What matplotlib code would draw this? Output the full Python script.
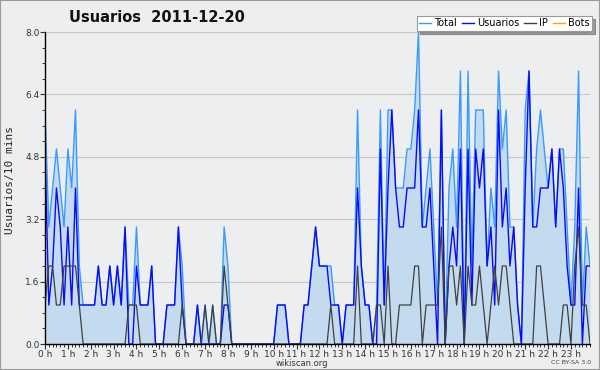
import numpy as np
import matplotlib
matplotlib.use("Agg")
import matplotlib.pyplot as plt
from matplotlib.patches import Rectangle
from matplotlib.lines import Line2D

# Values per 10-minute slot (144 slots, 2011-12-20)
usuarios = [5,1,2,4,3,1,3,1,4,1,1,1,
            1,1,2,1,1,2,1,2,1,3,0,0,
            2,1,1,1,2,0,0,0,1,1,1,3,
            1,0,0,0,1,0,0,0,0,0,0,1,
            1,0,0,0,0,0,0,0,0,0,0,0,
            0,1,1,1,0,0,0,0,1,1,2,3,
            2,2,2,1,1,1,0,1,1,1,4,2,
            1,1,0,0,5,1,4,6,4,3,3,4,
            4,4,6,3,3,4,2,0,6,0,2,3,
            2,5,0,5,1,5,4,5,2,3,1,6,
            3,4,2,3,1,0,4,7,3,3,4,4,
            4,5,3,5,4,2,1,1,4,0,2,2]
ip = [1,2,2,1,1,2,2,2,2,1,0,0,
      0,0,0,0,0,0,0,0,0,0,1,1,
      1,0,0,0,0,0,0,0,0,0,0,0,
      1,0,0,0,0,0,1,0,1,0,0,2,
      1,0,0,0,0,0,0,0,0,0,0,0,
      0,0,0,0,0,0,0,0,0,0,0,0,
      0,0,0,1,0,0,0,0,0,0,2,0,
      0,0,0,1,1,0,2,0,0,1,1,1,
      1,2,2,0,1,1,1,1,3,0,2,2,
      1,2,0,2,1,1,2,1,0,1,2,1,
      2,2,1,0,0,0,0,0,0,2,2,1,
      0,0,0,0,1,1,0,2,3,1,1,0]
total = [6,3,4,5,4,3,5,4,6,2,1,1,
         1,1,2,1,1,2,1,2,1,3,1,1,
         3,1,1,1,2,0,0,0,1,1,1,3,
         2,0,0,0,1,0,1,0,1,0,0,3,
         2,0,0,0,0,0,0,0,0,0,0,0,
         0,1,1,1,0,0,0,0,1,1,2,3,
         2,2,2,2,1,1,0,1,1,1,6,2,
         1,1,0,1,6,1,6,6,4,4,4,5,
         5,6,8,3,4,5,3,1,6,0,4,5,
         3,7,0,7,2,6,6,6,2,4,3,7,
         5,6,3,3,1,0,6,7,3,5,6,5,
         4,5,3,5,5,3,1,3,7,1,3,2]
bots = [0] * 144
hours = list(range(24))
hour_labels = [f"{h} h" for h in hours]
yticks = [0.0, 1.6, 3.2, 4.8, 6.4, 8.0]

x = np.arange(len(total)) / 6.0

bg = "#EDEEF0"
fig = plt.figure(figsize=(6, 3.7), dpi=100, facecolor=bg)
ax = fig.add_axes([45/600, 26/370, 545/600, 312/370], facecolor=bg)

ax.fill_between(x, total, 0, color="#C4DBEF", lw=0, zorder=1)
ax.plot(x, bots, color="#FFA500", lw=1, zorder=0.5)
ax.plot(x, total, color="#3A9BFF", lw=1, zorder=3)
ax.plot(x, usuarios, color="#0A0AF5", lw=1, zorder=4)
ax.plot(x, ip, color="#404040", lw=0.9, zorder=5)

ax.set_xlim(0, x[-1])
ax.set_ylim(0, 8)
ax.set_yticks(yticks)
ax.set_yticklabels([f"{v:.1f}" for v in yticks])
ax.set_yticks(np.arange(0, 8.01, 0.4), minor=True)
ax.set_xticks(hours)
ax.set_xticklabels(hour_labels)
ax.set_xticks(np.arange(0, 24, 1/6), minor=True)
ax.tick_params(axis="both", which="major", labelsize=6.5, length=3.5, width=0.8,
               colors="#333333", pad=0.5)
ax.tick_params(axis="both", which="minor", length=2.5, width=0.7, color="#333333")
ax.grid(axis="y", which="major", color="#C8C8C8", lw=0.8, zorder=0)
ax.set_axisbelow(True)
for s in ["top", "right"]:
    ax.spines[s].set_visible(False)
for s in ["left", "bottom"]:
    ax.spines[s].set_linewidth(1.0)
    ax.spines[s].set_zorder(6)

fig.text(10/600, 1 - 180/370, "Usuarios/10 mins", rotation=90, ha="center",
         va="center", fontsize=8, family="DejaVu Sans Mono", color="#222222")
fig.text(157/600, 1 - 17/370, "Usuarios  2011-12-20", ha="center", va="center",
         fontsize=10.5, fontweight="bold", color="#111111")
fig.text(302/600, 1 - 363/370, "wikiscan.org", ha="center", va="center",
         fontsize=6, color="#333333")
fig.text(571/600, 1 - 363/370, "CC BY-SA 3.0", ha="center", va="center",
         fontsize=4.5, color="#444444")

handles = [Line2D([], [], color="#3A9BFF", lw=1),
           Line2D([], [], color="#0A0AF5", lw=1),
           Line2D([], [], color="#404040", lw=1),
           Line2D([], [], color="#FFA500", lw=1)]
leg = fig.legend(handles, ["Total", "Usuarios", "IP", "Bots"], ncol=4,
                 loc="upper right", bbox_to_anchor=(592/600, 1 - 16/370),
                 fontsize=7, frameon=True, fancybox=False, shadow=True,
                 handlelength=1.2, handletextpad=0.35, columnspacing=0.5,
                 borderpad=0.25, borderaxespad=0)
leg.get_frame().set_edgecolor("#999999")
leg.get_frame().set_facecolor("white")
leg.get_frame().set_linewidth(0.8)

fig.patches.append(Rectangle((0, 0), 1, 1, transform=fig.transFigure,
                             fill=False, edgecolor="#999999", lw=1.5))

fig.savefig("out.png", dpi=100, facecolor=bg)
